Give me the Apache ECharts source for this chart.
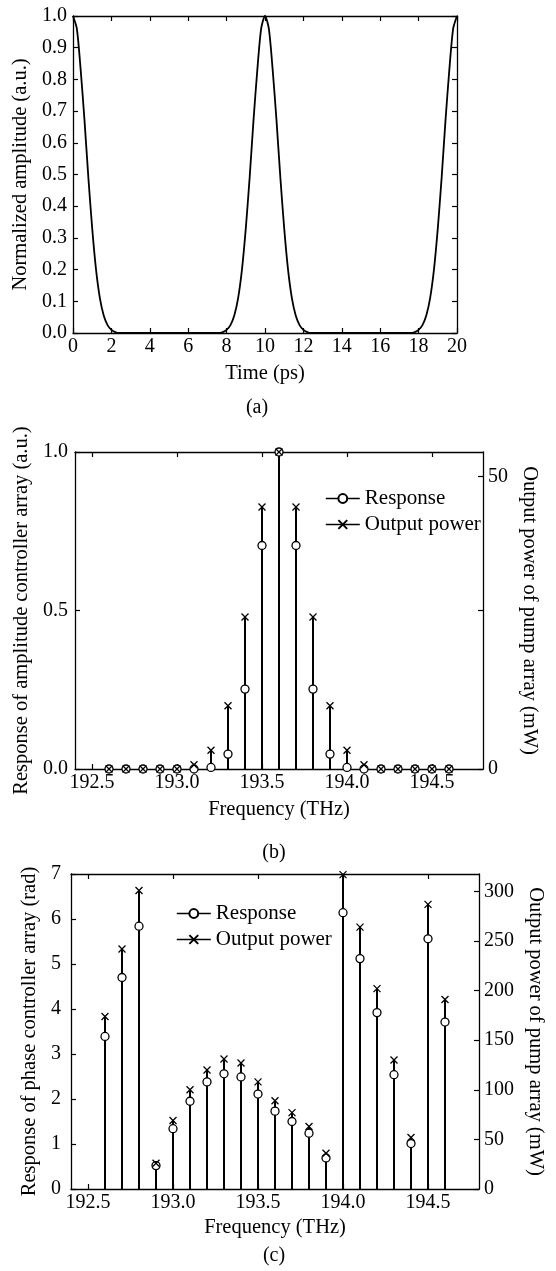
<!DOCTYPE html>
<html><head><meta charset="utf-8">
<script src="https://cdn.jsdelivr.net/npm/echarts@6/dist/echarts.min.js"></script>
<style>html,body{margin:0;padding:0;background:#fff}#c{width:556px;height:1271px}</style>
</head><body><div id="c"></div>
<script>
// ---- Panel (a): normalized amplitude vs time ----
const timePs = [0,0.2,0.4,0.6,0.8,1.0,1.2,1.4,1.6,1.8,2.0,2.2,2.4,
  7.6,7.8,8.0,8.2,8.4,8.6,8.8,9.0,9.2,9.4,9.6,9.8,10.0,10.2,10.4,10.6,10.8,11.0,11.2,11.4,11.6,11.8,12.0,12.2,12.4,
  17.6,17.8,18.0,18.2,18.4,18.6,18.8,19.0,19.2,19.4,19.6,19.8,20.0];
const amplitude = [1.00,0.96,0.83,0.67,0.49,0.33,0.20,0.11,0.055,0.025,0.01,0.003,0,
  0,0.003,0.01,0.025,0.055,0.11,0.20,0.33,0.49,0.67,0.83,0.96,1.00,0.96,0.83,0.67,0.49,0.33,0.20,0.11,0.055,0.025,0.01,0.003,0,
  0,0.003,0.01,0.025,0.055,0.11,0.20,0.33,0.49,0.67,0.83,0.96,1.00];

// ---- Panels (b),(c): frequency channels ----
const freqTHz = [192.6,192.7,192.8,192.9,193.0,193.1,193.2,193.3,193.4,193.5,193.6,193.7,193.8,193.9,194.0,194.1,194.2,194.3,194.4,194.5,194.6];
const freqTicks = [192.5,193.0,193.5,194.0,194.5];

// (b) amplitude controller response (a.u.) and pump output power (mW)
const respAmp  = [0,0,0,0,0,0,0.005,0.047,0.252,0.705,1.0,0.705,0.252,0.047,0.005,0,0,0,0,0,0];
const powerAmp = [0,0,0,0,0,0.74,3.2,10.8,26,44.8,54.2,44.8,26,10.8,3.2,0.74,0,0,0,0,0];
const powerTicksB = [0,50];

// (c) phase controller response (rad) and pump output power (mW)
const respPhase  = [3.39,4.70,5.84,0.52,1.34,1.95,2.38,2.56,2.49,2.11,1.73,1.50,1.24,0.69,6.14,5.12,3.92,2.54,1.01,5.56,3.71];
const powerPhase = [174,242,301,26,69,100,120,131,127,108,89,77,63,36,317,264,202,130,52,287,191];
const powerTicksC = [0,50,100,150,200,250,300];

const FONT = 'Liberation Serif';
const TS = 20, NS = 20.5;
const TXT = (s) => ({color:'#000', fontFamily:FONT, fontSize:s});
const AL = {show:true, onZero:false, lineStyle:{color:'#000', width:1.3}};
const TK = {show:true, inside:true, length:5, lineStyle:{color:'#000', width:1.2}};
const zip = (a,b) => a.map((v,i)=>[v,b[i]]);
const XMARK = 'path://M0,0L10,10M0,10L10,0';

const chart = echarts.init(document.getElementById('c'), null, {renderer:'canvas'});

function xBottom(grid, min, max, name, gap, extra) {
  return Object.assign({type:'value', gridIndex:grid, min, max, position:'bottom',
    name, nameLocation:'middle', nameGap:gap, nameTextStyle:TXT(NS),
    axisLine:AL, axisTick:TK, splitLine:{show:false},
    axisLabel:Object.assign({color:'#000', fontFamily:FONT, fontSize:TS, margin:4}, extra.label||{})}, extra.axis||{});
}
function xTop(grid, min, max, extra) {
  return Object.assign({type:'value', gridIndex:grid, min, max, position:'top',
    axisLine:AL, axisTick:TK, splitLine:{show:false}, axisLabel:{show:false}}, extra||{});
}

const option = {
  animation:false,
  backgroundColor:'#fff',
  grid:[
    {left:73, top:16, width:384, height:317},
    {left:75, top:452, width:408, height:317},
    {left:71, top:874, width:408, height:315}
  ],
  xAxis:[
    xBottom(0, 0, 20, 'Time (ps)', 30, {axis:{interval:2}}),
    xTop(0, 0, 20, {interval:2}),
    xBottom(1, 192.4, 194.8, 'Frequency (THz)', 30, {
      label:{customValues:freqTicks, formatter:(v)=>v.toFixed(1)},
      axis:{axisTick:Object.assign({customValues:freqTicks}, TK)}}),
    xTop(1, 192.4, 194.8, {axisTick:Object.assign({customValues:freqTicks}, TK)}),
    xBottom(2, 192.4, 194.8, 'Frequency (THz)', 28, {
      label:{customValues:freqTicks, formatter:(v)=>v.toFixed(1)},
      axis:{axisTick:Object.assign({customValues:freqTicks}, TK)}}),
    xTop(2, 192.4, 194.8, {axisTick:Object.assign({customValues:freqTicks}, TK)})
  ],
  yAxis:[
    {type:'value', gridIndex:0, min:0, max:1, interval:0.1, position:'left',
     name:'Normalized amplitude (a.u.)', nameLocation:'middle', nameGap:38, nameRotate:90, nameTextStyle:TXT(NS),
     axisLine:AL, axisTick:TK, splitLine:{show:false},
     axisLabel:{color:'#000', fontFamily:FONT, fontSize:TS, margin:6, formatter:(v)=>v.toFixed(1)}},
    {type:'value', gridIndex:0, min:0, max:1, interval:0.1, position:'right',
     axisLine:AL, axisTick:TK, splitLine:{show:false}, axisLabel:{show:false}},
    {type:'value', gridIndex:1, min:0, max:1, interval:0.5, position:'left',
     name:'Response of amplitude controller array (a.u.)', nameLocation:'middle', nameGap:38, nameRotate:90,
     nameTextStyle:TXT(NS),
     axisLine:AL, axisTick:TK, splitLine:{show:false},
     axisLabel:{color:'#000', fontFamily:FONT, fontSize:TS, margin:7, formatter:(v)=>v.toFixed(1)}},
    {type:'value', gridIndex:1, min:0, max:54.2, position:'right',
     name:'Output power of pump array (mW)', nameLocation:'middle', nameGap:21, nameRotate:-90, nameTextStyle:TXT(NS),
     axisLine:AL, axisTick:Object.assign({customValues:[0,27.1,50]}, TK), splitLine:{show:false},
     axisLabel:{color:'#000', fontFamily:FONT, fontSize:TS, margin:5, customValues:powerTicksB}},
    {type:'value', gridIndex:2, min:0, max:7, interval:1, position:'left',
     name:'Response of phase controller array (rad)', nameLocation:'middle', nameGap:29, nameRotate:90,
     nameTextStyle:TXT(NS),
     axisLine:AL, axisTick:TK, splitLine:{show:false},
     axisLabel:{color:'#000', fontFamily:FONT, fontSize:TS, margin:10}},
    {type:'value', gridIndex:2, min:0, max:317.6, position:'right',
     name:'Output power of pump array (mW)', nameLocation:'middle', nameGap:43, nameRotate:-90, nameTextStyle:TXT(NS),
     axisLine:AL, axisTick:Object.assign({customValues:powerTicksC}, TK), splitLine:{show:false},
     axisLabel:{color:'#000', fontFamily:FONT, fontSize:TS, margin:5, customValues:powerTicksC}}
  ],
  legend:[
    {data:['Response','Output power'], orient:'vertical', left:320, top:483, itemWidth:34, itemHeight:11, itemGap:5,
     selectedMode:false, textStyle:TXT(21), lineStyle:{opacity:1, width:1.6, color:'#000'}},
    {data:['Response','Output power'], orient:'vertical', left:171, top:898, itemWidth:34, itemHeight:11, itemGap:5,
     selectedMode:false, textStyle:TXT(21), lineStyle:{opacity:1, width:1.6, color:'#000'}}
  ],
  graphic:[
    {type:'text', x:257, y:408, style:{text:'(a)', fontFamily:FONT, fontSize:20, fill:'#000', align:'center', verticalAlign:'middle'}},
    {type:'text', x:274, y:853, style:{text:'(b)', fontFamily:FONT, fontSize:20, fill:'#000', align:'center', verticalAlign:'middle'}},
    {type:'text', x:274, y:1256, style:{text:'(c)', fontFamily:FONT, fontSize:20, fill:'#000', align:'center', verticalAlign:'middle'}}
  ],
  series:[
    {type:'line', name:'pulse', xAxisIndex:0, yAxisIndex:0, data:zip(timePs, amplitude), showSymbol:false, smooth:0.25,
     lineStyle:{color:'#000', width:1.8}, silent:true},
    // (b)
    {type:'bar', name:'stemRespB', xAxisIndex:2, yAxisIndex:2, data:zip(freqTHz, respAmp), barWidth:2, barGap:'-100%',
     itemStyle:{color:'#000'}, silent:true, z:2},
    {type:'bar', name:'stemPowB', xAxisIndex:2, yAxisIndex:3, data:zip(freqTHz, powerAmp), barWidth:2, barGap:'-100%',
     itemStyle:{color:'#000'}, silent:true, z:2},
    {type:'line', name:'Response', xAxisIndex:2, yAxisIndex:2, data:zip(freqTHz, respAmp), symbol:'circle', symbolSize:8,
     showAllSymbol:true, itemStyle:{color:'#fff', borderColor:'#000', borderWidth:1.3}, lineStyle:{opacity:0, color:'#000'}, z:5, silent:true},
    {type:'line', name:'Output power', xAxisIndex:2, yAxisIndex:3, data:zip(freqTHz, powerAmp), symbol:XMARK, symbolSize:7,
     showAllSymbol:true, itemStyle:{color:'#000', borderColor:'#000', borderWidth:1.3}, lineStyle:{opacity:0, color:'#000'}, z:6, silent:true},
    // (c)
    {type:'bar', name:'stemRespC', xAxisIndex:4, yAxisIndex:4, data:zip(freqTHz, respPhase), barWidth:2, barGap:'-100%',
     itemStyle:{color:'#000'}, silent:true, z:2},
    {type:'bar', name:'stemPowC', xAxisIndex:4, yAxisIndex:5, data:zip(freqTHz, powerPhase), barWidth:2, barGap:'-100%',
     itemStyle:{color:'#000'}, silent:true, z:2},
    {type:'line', name:'Response', xAxisIndex:4, yAxisIndex:4, data:zip(freqTHz, respPhase), symbol:'circle', symbolSize:8,
     showAllSymbol:true, itemStyle:{color:'#fff', borderColor:'#000', borderWidth:1.3}, lineStyle:{opacity:0, color:'#000'}, z:5, silent:true},
    {type:'line', name:'Output power', xAxisIndex:4, yAxisIndex:5, data:zip(freqTHz, powerPhase), symbol:XMARK, symbolSize:7,
     showAllSymbol:true, itemStyle:{color:'#000', borderColor:'#000', borderWidth:1.3}, lineStyle:{opacity:0, color:'#000'}, z:6, silent:true}
  ]
};
chart.setOption(option);
</script></body></html>
